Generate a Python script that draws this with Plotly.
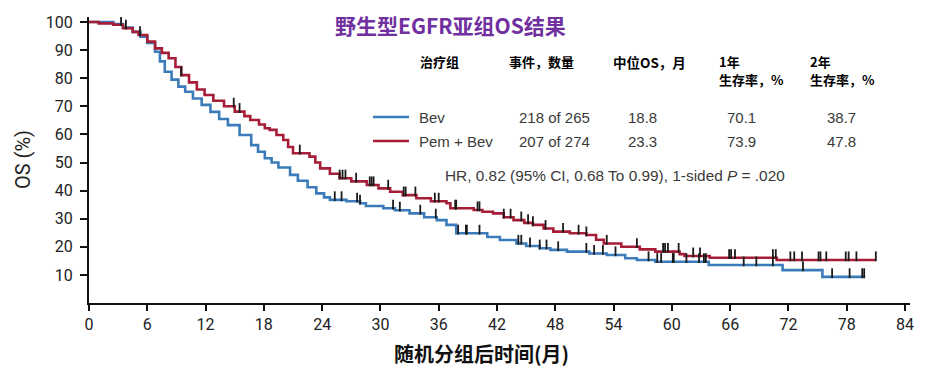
import numpy as np
import plotly.graph_objects as go

# ---------------- data ----------------
bev_t = [0, 1.6, 2.5, 3.5, 4.5, 5.3, 6.0, 6.8, 7.3, 7.8, 8.5, 9.2, 9.9, 10.7, 11.6, 12.5, 13.4,
         14.3, 15.5, 16.7, 17.4, 18.1, 18.8, 19.5, 20.7, 21.5, 22.5, 23.4, 24.2, 24.8, 26.5, 27.9,
         28.5, 30.3, 31.5, 33.0, 34.5, 35.8, 36.8, 37.8, 40.2, 41.0, 42.3, 44.0, 45.0, 46.4, 47.5,
         49.2, 51.5, 53.3, 55.2, 56.4, 58.3, 63.8, 71.4, 75.5, 79.9]
bev_s = [100, 100, 99.3, 98, 96.5, 94.8, 92.5, 89.4, 86, 82.3, 79.5, 77, 75.2, 72.8, 70.5, 68, 65.5,
         63.3, 59.8, 56.2, 53.8, 51.5, 50, 48.2, 45.6, 43.5, 41.2, 39, 37.6, 36.7, 36.2, 35.5,
         34.5, 33.7, 33, 31.9, 30.5, 29.5, 27.8, 24.8, 24.8, 23.5, 22.4, 21.2, 20.3, 19.5, 18.9,
         18.3, 17.6, 17.1, 15.9, 15.3, 14.7, 13.5, 11.7, 9.3, 9.3]
pem_t = [0, 1.0, 2.5, 3.5, 4.5, 5.1, 6.0, 6.8, 7.5, 8.2, 8.9, 9.5, 10.3, 11.1, 11.9, 12.8, 13.9,
         15.0, 16.0, 16.6, 17.5, 18.1, 18.6, 19.3, 20.0, 20.5, 21.0, 22.7, 23.3, 23.8, 24.8, 25.8,
         27.0, 28.6, 29.8, 31.0, 32.3, 33.7, 35.2, 36.8, 37.2, 39.6, 40.5, 41.6, 42.7, 43.7, 44.8,
         45.7, 46.8, 47.8, 49.5, 51.2, 52.2, 53.0, 54.8, 56.7, 58.3, 60.8, 61.3, 63.9, 70.8, 81.0]
pem_s = [100, 99.5, 99, 97.8, 96.5, 95.4, 93, 90.6, 89, 87.1, 84, 81.1, 78.5, 76, 74, 72, 70,
         68.1, 66.5, 65.1, 63.5, 62.2, 61.6, 59.8, 58, 55.5, 53.3, 52.1, 50, 47.9, 46, 44.4,
         43.3, 42, 40.8, 39.6, 38.4, 37.3, 36.2, 35.5, 33.7, 33.1, 32.5, 31.9, 30.5, 29.5, 28.5,
         27.8, 26.5, 25.4, 24.8, 24.2, 22.5, 21.2, 20, 19.1, 18.3, 17.4, 16.7, 16.1, 15.3, 15.3]

bev_cens = [25.3, 26.0, 27.6, 27.9, 31.3, 32.0, 34.1, 35.7, 38.0, 38.8, 38.9, 40.2, 44.2, 44.5,
            45.4, 46.4, 47.1, 48.3, 51.2, 52.0, 52.9, 54.2, 57.6, 58.5, 58.9, 60.1, 60.2, 61.5,
            62.8, 63.3, 63.5, 67.4, 68.7, 70.4, 73.5, 76.5, 78.3, 79.6, 79.8]
pem_cens = [3.3, 3.8, 5.25, 9.5, 14.9, 15.5, 21.7, 25.8, 26.1, 26.4, 27.5, 28.9, 29.1, 29.3,
            30.8, 32.4, 32.6, 33.6, 35.6, 36.0, 37.7, 37.8, 40.0, 40.2, 42.7, 43.4, 44.5, 45.2,
            45.7, 47.0, 48.8, 50.4, 51.2, 53.3, 56.4, 59.1, 59.3, 59.6, 60.7, 62.2, 62.9, 65.9,
            66.1, 66.5, 70.4, 70.7, 72.2, 72.6, 73.4, 75.1, 75.3, 75.9, 77.9, 78.2, 79.0, 81.0]

x_ticks = list(range(0, 85, 6))
y_ticks = list(range(10, 101, 10))

title_text = "野生型EGFR亚组OS结果"
x_title = "随机分组后时间(月)"
y_title = "OS (%)"
headers = ["治疗组", "事件，数量", "中位OS，月", "1年<br>生存率，%", "2年<br>生存率，%"]
arms = ["Bev", "Pem + Bev"]
events = ["218 of 265", "207 of 274"]
median_os = ["18.8", "23.3"]
surv_1y = ["70.1", "73.9"]
surv_2y = ["38.7", "47.8"]
hr_text = "HR, 0.82 (95% CI, 0.68 To 0.99), 1-sided <i>P</i> = .020"

BLUE = "#3b7bb9"
RED = "#a61d37"

# ---------------- layout geometry ----------------
# page has an 8px body margin, so the figure is drawn 8px smaller on each side
OFF = 8
W, H = 934 - 2 * OFF, 378 - 2 * OFF
ML, MT = 89 - OFF, 17 - OFF
PW, PH = 821, 286
MR, MB = W - ML - PW, H - MT - PH


def px(xp):
    return (xp - OFF - ML) / PW


def py(yp):
    return (MT + PH - (yp - OFF)) / PH


def step_at(ts, ss, t):
    i = np.searchsorted(np.asarray(ts), t, side="right") - 1
    return float(np.asarray(ss)[max(i, 0)])


fig = go.Figure()
fig.add_trace(go.Scatter(x=bev_t, y=bev_s, mode="lines", line=dict(color=BLUE, width=2.6, shape="hv"),
                         showlegend=False, hoverinfo="skip"))
fig.add_trace(go.Scatter(x=pem_t, y=pem_s, mode="lines", line=dict(color=RED, width=2.6, shape="hv"),
                         showlegend=False, hoverinfo="skip"))

for ts, ss, cens in [(bev_t, bev_s, bev_cens), (pem_t, pem_s, pem_cens)]:
    cy = [step_at(ts, ss, c) + 1.3 for c in cens]
    fig.add_trace(go.Scatter(x=cens, y=cy, mode="markers",
                             marker=dict(symbol="line-ns", size=7, line=dict(color="#1a1a1a", width=1.8)),
                             showlegend=False, hoverinfo="skip"))

ann = []
ann.append(dict(text=f"<b>{title_text}</b>", x=px(450), y=1 + MT / PH, xanchor="center", yanchor="top",
                font=dict(family="Noto Sans CJK SC", size=21, color="#7030a0")))
# headers
hfont = dict(family="Noto Sans CJK SC", size=13, color="#000000")
ann.append(dict(text=f"<b>{headers[0]}</b>", x=px(418), y=py(62), xanchor="left", yanchor="middle", font=hfont))
ann.append(dict(text=f"<b>{headers[1]}</b>", x=px(507), y=py(62), xanchor="left", yanchor="middle", font=hfont))
ann.append(dict(text=f"<b>{headers[2]}</b>", x=px(611), y=py(62), xanchor="left", yanchor="middle",
                font=dict(family="Noto Sans CJK SC", size=13.5, color="#000000")))
for i, xl in enumerate([717, 808]):
    l1, l2 = headers[3 + i].split("<br>")
    ann.append(dict(text=f"<b>{l1}</b>", x=px(xl), y=py(62), xanchor="left", yanchor="middle", font=hfont))
    ann.append(dict(text=f"<b>{l2}</b>", x=px(xl), y=py(79), xanchor="left", yanchor="middle", font=hfont))

rfont = dict(family="Liberation Sans, Arial", size=15, color="#3a3a3a")
row_y = [117, 141]
shapes = []
for i, col in enumerate([BLUE, RED]):
    yy = row_y[i]
    shapes.append(dict(type="line", xref="paper", yref="paper", x0=px(373), x1=px(409), y0=py(yy), y1=py(yy),
                       line=dict(color=col, width=2.6)))
    ann.append(dict(text=arms[i], x=px(417), y=py(yy), xanchor="left", yanchor="middle", font=rfont))
    ann.append(dict(text=events[i], x=px(554), y=py(yy), xanchor="center", yanchor="middle", font=rfont))
    ann.append(dict(text=median_os[i], x=px(642), y=py(yy), xanchor="center", yanchor="middle", font=rfont))
    ann.append(dict(text=surv_1y[i], x=px(741), y=py(yy), xanchor="center", yanchor="middle", font=rfont))
    ann.append(dict(text=surv_2y[i], x=px(841), y=py(yy), xanchor="center", yanchor="middle", font=rfont))
ann.append(dict(text=hr_text, x=px(443), y=py(175), xanchor="left", yanchor="middle",
                font=dict(family="Liberation Sans, Arial", size=15.4, color="#3a3a3a")))

ann.append(dict(text=y_title, x=px(23), y=py(160), xanchor="center", yanchor="middle", textangle=-90,
                font=dict(family="Roboto, Liberation Sans", size=20, color="#222222")))
ann.append(dict(text=f"<b>{x_title}</b>", x=px(481), y=-MB / PH, xanchor="center", yanchor="bottom",
                font=dict(family="Noto Sans CJK SC", size=20, color="#111111")))
for a in ann:
    a.setdefault("xref", "paper")
    a.setdefault("yref", "paper")
    a.setdefault("showarrow", False)

fig.update_layout(
    width=W, height=H,
    margin=dict(l=ML, r=MR, t=MT, b=MB, pad=0),
    paper_bgcolor="white", plot_bgcolor="white",
    annotations=ann, shapes=shapes,
    xaxis=dict(range=[0, PW / 9.714], tickvals=x_ticks, ticktext=[str(v) for v in x_ticks],
               showgrid=False, zeroline=False, showline=True, linecolor="#111111", linewidth=2,
               ticks="outside", ticklen=6, tickwidth=1.5, tickcolor="#111111", automargin=False,
               tickfont=dict(family="Roboto, Liberation Sans", size=16, color="#222222")),
    yaxis=dict(range=[0, PH / 2.81], tickvals=y_ticks, ticktext=[str(v) for v in y_ticks],
               showgrid=False, zeroline=False, showline=True, linecolor="#111111", linewidth=2,
               ticks="outside", ticklen=7, tickwidth=1.5, tickcolor="#111111", automargin=False,
               ticklabelstandoff=4,
               tickfont=dict(family="Roboto, Liberation Sans", size=16, color="#222222")),
)

fig.write_html("out.html")
